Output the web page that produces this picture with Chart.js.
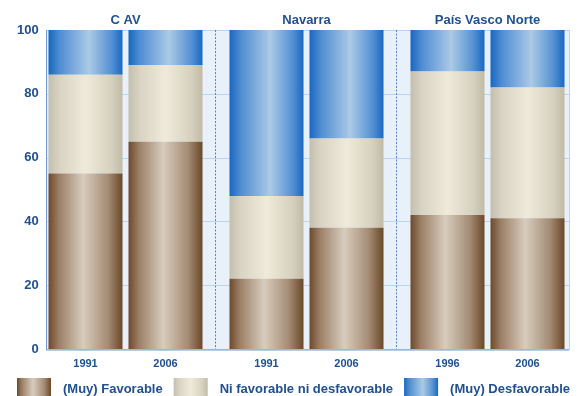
<!DOCTYPE html>
<html>
<head>
<meta charset="utf-8">
<script src="https://cdn.jsdelivr.net/npm/chart.js@4/dist/chart.umd.min.js"></script>
<style>
  body { margin: 0; background: #ffffff; }
  canvas { display: block; }
</style>
</head>
<body>
<canvas id="opinionChart" width="580" height="396"></canvas>
<script>
// Opinion shares per region and survey year (percent, stacked to 100)

var regions = ['C AV', 'Navarra', 'País Vasco Norte'];
var years = ['1991', '2006', '1991', '2006', '1996', '2006'];
var favorable = [55, 65, 22, 38, 42, 41];
var neutral = [31, 24, 26, 28, 45, 41];
var unfavorable = [14, 11, 52, 34, 13, 18];
var seriesNames = ['(Muy) Favorable', 'Ni favorable ni desfavorable', '(Muy) Desfavorable'];
var yTicks = [0, 20, 40, 60, 80, 100];

var TEXT = '#21508f';
var FONT = "'Liberation Sans', Arial, sans-serif";
var CAT_PCT = 160 / 181;
var BAR_PCT = 0.925;

// horizontal "cylinder" shading for each series
var shades = [
    [[0, '#6c4a2c'], [0.14, '#9b7f66'], [0.47, '#d8ccbe'], [0.8, '#a58c75'], [1, '#6a482a']],
    [[0, '#c3bead'], [0.15, '#d8d3c3'], [0.5, '#f0eada'], [0.85, '#d6d0bf'], [1, '#c0baa6']],
    [[0, '#1966c0'], [0.15, '#4f8dd2'], [0.55, '#abcae6'], [0.85, '#5591d3'], [1, '#1a68c2']]
];

function gradient(c, x0, x1, stops) {
    var g = c.createLinearGradient(x0, 0, x1, 0);
    stops.forEach(function (s) { g.addColorStop(s[0], s[1]); });
    return g;
}

function barFill(series) {
    return function (ctx) {
        var chart = ctx.chart;
        var x = chart.scales.x;
        if (!x || ctx.dataIndex === undefined || !isFinite(x.getPixelForValue(0))) {
            return shades[series][2][1];
        }
        var step = x.getPixelForValue(1) - x.getPixelForValue(0);
        var chunk = step * CAT_PCT / 2;
        var k = ctx.dataset.yearIndex;
        var center = x.getPixelForValue(ctx.dataIndex) - chunk + chunk * k + chunk / 2;
        var half = chunk * BAR_PCT / 2;
        return gradient(chart.ctx, center - half, center + half, shades[series]);
    };
}

// one stack per survey year inside each region
var values = [favorable, neutral, unfavorable];
var datasets = [];
[0, 1].forEach(function (k) {
    values.forEach(function (arr, s) {
        datasets.push({
            label: seriesNames[s],
            data: regions.map(function (r, i) { return arr[i * 2 + k]; }),
            stack: 'year' + k,
            yearIndex: k,
            backgroundColor: barFill(s),
            borderWidth: 0,
            categoryPercentage: CAT_PCT,
            barPercentage: BAR_PCT
        });
    });
});

var FRAME_LEFT = 46;
var FRAME_RIGHT = 569;

var backdrop = {
    id: 'backdrop',
    beforeDraw: function (chart) {
        var c = chart.ctx, y = chart.scales.y, x = chart.scales.x;
        var top = y.getPixelForValue(100), bottom = y.getPixelForValue(0);
        c.save();
        c.fillStyle = '#ffffff';
        c.fillRect(0, 0, chart.width, chart.height);
        c.fillStyle = '#e8f1fa';
        c.fillRect(FRAME_LEFT, top, FRAME_RIGHT - FRAME_LEFT, bottom - top);
        c.strokeStyle = '#bcd5ee';
        c.lineWidth = 1;
        yTicks.forEach(function (v) {
            var py = Math.round(y.getPixelForValue(v)) + 0.5;
            c.beginPath();
            c.moveTo(FRAME_LEFT, py);
            c.lineTo(FRAME_RIGHT, py);
            c.stroke();
        });
        c.strokeRect(FRAME_LEFT + 0.5, top + 0.5, FRAME_RIGHT - FRAME_LEFT, bottom - top);
        // dashed separators between regions
        c.strokeStyle = '#5784c2';
        c.setLineDash([2, 1.5]);
        for (var i = 0; i < regions.length - 1; i++) {
            var px = Math.round((x.getPixelForValue(i) + x.getPixelForValue(i + 1)) / 2) - 0.5;
            c.beginPath();
            c.moveTo(px, top);
            c.lineTo(px, bottom);
            c.stroke();
        }
        c.restore();
    },
    afterDatasetsDraw: function (chart) {
        var c = chart.ctx, y = chart.scales.y;
        var top = y.getPixelForValue(100), bottom = y.getPixelForValue(0);
        c.save();
        c.strokeStyle = '#6f9bd2';
        c.lineWidth = 1;
        c.beginPath();
        c.moveTo(FRAME_LEFT + 0.5, top);
        c.lineTo(FRAME_LEFT + 0.5, bottom + 1);
        c.lineTo(FRAME_RIGHT, bottom + 1);
        c.stroke();

        // year under each bar
        c.fillStyle = TEXT;
        c.font = 'bold 11px ' + FONT;
        c.textAlign = 'center';
        c.textBaseline = 'middle';
        [0, 1].forEach(function (k) {
            var meta = chart.getDatasetMeta(k * 3);
            meta.data.forEach(function (bar, i) {
                c.fillText(years[i * 2 + k], bar.x, 364);
            });
        });
        c.restore();
    },
    afterDraw: function (chart) {
        // legend row with shaded swatches
        var c = chart.ctx;
        c.save();
        c.font = 'bold 13px ' + FONT;
        c.textBaseline = 'middle';
        c.textAlign = 'left';
        var lx = 17;
        seriesNames.forEach(function (name, s) {
            c.fillStyle = gradient(c, lx, lx + 34, shades[s]);
            c.fillRect(lx, 378, 34, 20);
            c.fillStyle = TEXT;
            c.fillText(name, lx + 46, 389);
            lx += 46 + c.measureText(name).width + 11;
        });
        c.restore();
    }
};

var ctx = document.getElementById('opinionChart');

var opinionChart = new Chart(ctx, {
    type: 'bar',
    data: {
        labels: regions,
        datasets: datasets
    },
    plugins: [backdrop],
    options: {
        responsive: false,
        animation: false,
        layout: { padding: { left: 0, right: 2, top: 0, bottom: 47 } },
        plugins: {
            legend: { display: false },
            tooltip: { enabled: false }
        },
        scales: {
            x: {
                position: 'top',
                stacked: true,
                grid: { display: false, drawTicks: false },
                border: { display: false },
                ticks: {
                    color: TEXT,
                    padding: 2,
                    font: { family: FONT, size: 13, weight: 'bold' }
                },
                afterFit: function (scale) { scale.height = 30; }
            },
            y: {
                stacked: true,
                min: 0,
                max: 100,
                grid: { display: false, drawTicks: false },
                border: { display: false },
                ticks: {
                    stepSize: 20,
                    color: TEXT,
                    mirror: true,
                    crossAlign: 'far',
                    padding: -18,
                    font: { family: FONT, size: 13, weight: 'bold' }
                },
                afterFit: function (scale) { scale.width = 35; }
            }
        }
    }
});
</script>
</body>
</html>
